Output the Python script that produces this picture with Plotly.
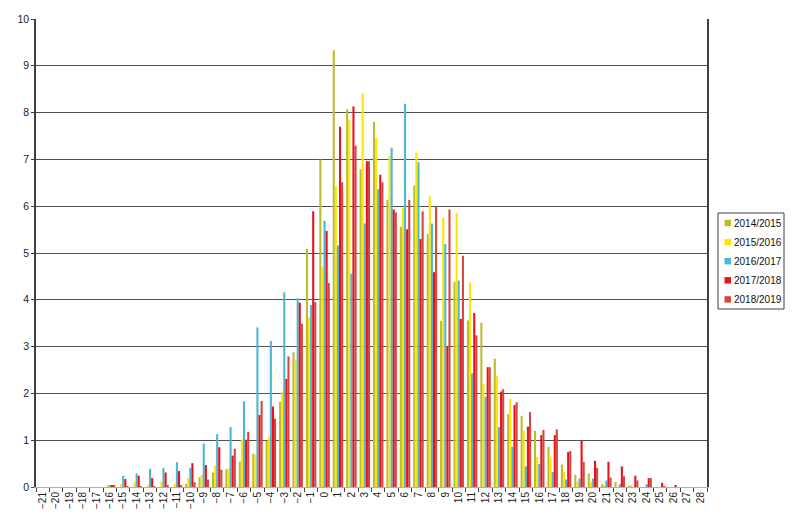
import plotly.graph_objects as go

categories = [str(v).replace("-", "\u2212") for v in range(-21, 29)]

series_names = ["2014/2015", "2015/2016", "2016/2017", "2017/2018", "2018/2019"]
series_colors = ["#BCBC2E", "#FFE500", "#4DB6D6", "#E8121C", "#D6463E"]

# values for categories -21 .. 28
s2014 = [0, 0, 0, 0, 0,
         0, 0, 0, 0, 0, 0, 0.07, 0.21, 0.31, 0.38, 0.54, 0.71, 0.99, 1.82, 2.88, 5.09,
         7.0, 9.33, 8.07, 6.79, 7.8, 6.14, 5.56, 6.44, 5.41, 3.55, 4.39, 3.56, 3.51, 2.74,
         1.56, 1.52, 1.2, 0.86, 0.48, 0.26, 0.29, 0.06, 0.11, 0.02, 0, 0, 0, 0, 0]
s2015 = [0, 0, 0, 0, 0,
         0.05, 0.06, 0.1, 0.04, 0.12, 0.07, 0.19, 0.26, 0.46, 0.39, 1.01, 0.69, 1.06, 2.04, 2.72, 3.62,
         4.7, 6.43, 7.84, 8.41, 7.47, 7.07, 5.96, 7.15, 6.21, 5.76, 5.86, 4.37, 2.2, 2.37,
         1.89, 1.2, 0.64, 0.65, 0.32, 0.11, 0.11, 0.03, 0, 0.04, 0, 0, 0, 0, 0]
s2016 = [0, 0, 0, 0, 0,
         0.04, 0.24, 0.29, 0.39, 0.41, 0.53, 0.41, 0.93, 1.13, 1.28, 1.83, 3.41, 3.12, 4.16, 4.03, 3.89,
         5.69, 5.16, 4.56, 5.63, 6.36, 7.25, 8.19, 6.94, 5.63, 5.19, 4.41, 2.43, 1.93, 1.28,
         0.86, 0.44, 0.49, 0.32, 0.16, 0.18, 0.18, 0.14, 0.06, 0, 0.06, 0, 0, 0, 0]
s2017 = [0, 0, 0, 0, 0,
         0.04, 0.17, 0.24, 0.19, 0.31, 0.34, 0.51, 0.47, 0.85, 0.67, 1.01, 1.54, 1.72, 2.31, 3.94, 5.89,
         5.47, 7.7, 8.13, 6.96, 6.67, 5.93, 5.51, 5.3, 4.59, 3.0, 3.59, 3.72, 2.56, 2.04,
         1.75, 1.29, 1.11, 1.11, 0.75, 0.99, 0.56, 0.54, 0.44, 0.24, 0.19, 0.09, 0.04, 0, 0]
s2018 = [0, 0, 0, 0, 0,
         0.03, 0.02, 0.02, 0.02, 0.03, 0.03, 0.1, 0.16, 0.37, 0.82, 1.18, 1.84, 1.46, 2.79, 3.49, 3.95,
         4.36, 6.51, 7.29, 6.96, 6.51, 5.87, 6.13, 5.89, 6.0, 5.93, 4.94, 3.24, 2.56, 2.09,
         1.81, 1.6, 1.22, 1.23, 0.77, 0.54, 0.41, 0.2, 0.23, 0.14, 0.19, 0.01, 0, 0, 0]

all_series = [s2014, s2015, s2016, s2017, s2018]

FONT = "Liberation Sans, Arial, sans-serif"

# the page body has an 8px margin, so the figure is sized/offset to compensate
OFF = 8
W, H = 800 - OFF, 527 - OFF
ML, MR, MT, MB = 36 - OFF, 93, 19 - OFF, 40
PW, PH = W - ML - MR, H - MT - MB


def px_x(p):
    return (p - OFF - ML) / PW


def px_y(p):
    return (H - MB - (p - OFF)) / PH


fig = go.Figure()
for name, color, vals in zip(series_names, series_colors, all_series):
    fig.add_trace(go.Bar(x=categories, y=vals, name=name, marker_color=color,
                         marker_line_width=0, showlegend=False))

# hand-built legend box (matches the compact boxed legend of the reference)
shapes = [dict(type="rect", xref="paper", yref="paper",
               x0=px_x(718), x1=px_x(784), y0=px_y(309), y1=px_y(213),
               line=dict(color="#404040", width=1), fillcolor="white", layer="above")]
annotations = []
for i, (name, color) in enumerate(zip(series_names, series_colors)):
    cy = 223 + i * 19.1
    shapes.append(dict(type="rect", xref="paper", yref="paper",
                       x0=px_x(724.5), x1=px_x(731), y0=px_y(cy + 3.2), y1=px_y(cy - 3.2),
                       line=dict(width=0), fillcolor=color, layer="above"))
    annotations.append(dict(xref="paper", yref="paper", x=px_x(732), y=px_y(cy),
                            xanchor="left", yanchor="middle", showarrow=False,
                            text=name, font=dict(size=10, color="#111")))

fig.update_layout(
    width=W, height=H,
    margin=dict(l=ML, r=MR, t=MT, b=MB, autoexpand=False),
    paper_bgcolor="white", plot_bgcolor="white",
    barmode="group", bargap=0.22, bargroupgap=0,
    font=dict(family=FONT, size=10, color="#222"),
    showlegend=False,
    shapes=shapes, annotations=annotations,
    xaxis=dict(type="category", categoryorder="array", categoryarray=categories,
               tickangle=-90, ticks="outside", tickson="boundaries", ticklen=4,
               tickcolor="#404040", showline=True, linecolor="#b0b0b0", linewidth=1,
               showgrid=False, tickfont=dict(size=10)),
    yaxis=dict(range=[0, 10], dtick=1, ticks="outside", ticklen=3, tickcolor="#404040",
               showline=True, linecolor="#404040", linewidth=1.5, mirror=True,
               gridcolor="#505050", gridwidth=1, zeroline=False, tickfont=dict(size=10.5)),
)

fig.write_html("out.html")
